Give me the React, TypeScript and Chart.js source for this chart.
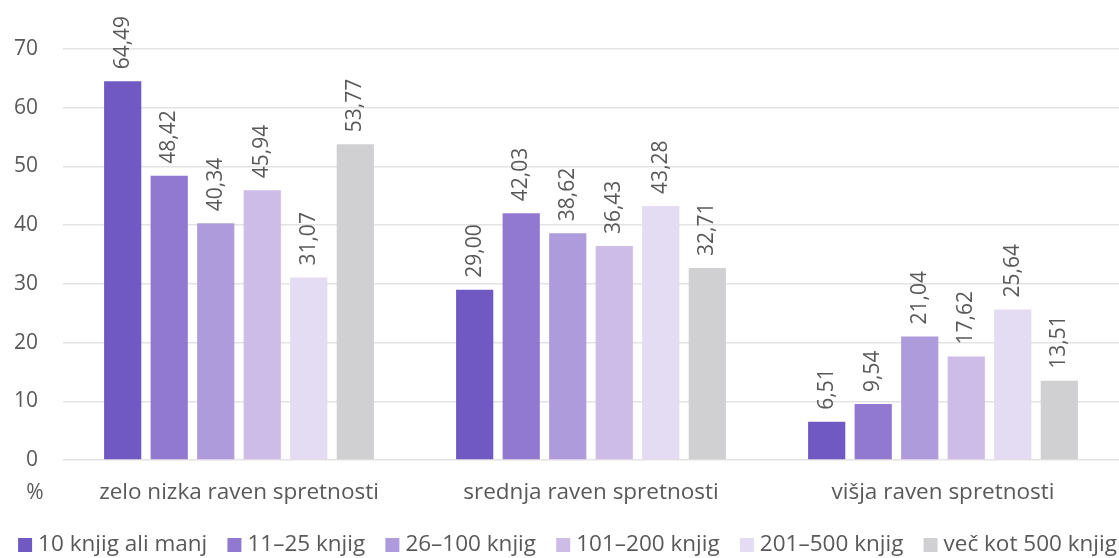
import { useEffect, useRef } from "react";
import { Chart, registerables } from "chart.js";

Chart.register(...registerables);

const categories = ["zelo nizka raven spretnosti", "srednja raven spretnosti", "višja raven spretnosti"];
const seriesNames = ["10 knjig ali manj", "11–25 knjig", "26–100 knjig", "101–200 knjig", "201–500 knjig", "več kot 500 knjig"];
const s1 = [64.49, 29.0, 6.51];
const s2 = [48.42, 42.03, 9.54];
const s3 = [40.34, 38.62, 21.04];
const s4 = [45.94, 36.43, 17.62];
const s5 = [31.07, 43.28, 25.64];
const s6 = [53.77, 32.71, 13.51];
const yTicks = [0, 10, 20, 30, 40, 50, 60, 70];
const colors = ["#7159C4", "#9178D1", "#AE9BDC", "#CDBBE8", "#E4DCF2", "#D0D0D2"];

const FONT = "'Open Sans', 'Noto Sans', sans-serif";
const FS = 21;
const FS_TEXT = 22.5;
const TEXT = "#595959";

const labelPlugin = {
  id: "barLabels",
  afterDatasetsDraw(chart: any) {
    const ctx = chart.ctx;
    ctx.save();
    ctx.font = `${FS}px ${FONT}`;
    ctx.fillStyle = TEXT;
    ctx.textAlign = "left";
    ctx.textBaseline = "middle";
    chart.data.datasets.forEach((ds: any, i: number) => {
      const meta = chart.getDatasetMeta(i);
      meta.data.forEach((bar: any, j: number) => {
        const v = ds.data[j];
        const txt = v.toFixed(2).replace(".", ",");
        ctx.save();
        ctx.translate(bar.x, bar.y - 12);
        ctx.rotate(-Math.PI / 2);
        ctx.fillText(txt, 0, 0);
        ctx.restore();
      });
    });
    // "%" under the axis
    const y0 = chart.scales.y.getPixelForValue(0);
    ctx.textAlign = "center";
    ctx.fillText("%", 35, y0 + 33);

    // legend
    ctx.font = `${FS_TEXT}px ${FONT}`;
    const boxSize = 14;
    const boxGap = 6;
    const itemGap = 20.2;
    const widths = seriesNames.map((n) => ctx.measureText(n).width);
    const total = widths.reduce((a, w) => a + boxSize + boxGap + w, 0) + itemGap * (seriesNames.length - 1);
    let x = (chart.width - total) / 2 + 8;
    const ly = 545;
    ctx.textAlign = "left";
    seriesNames.forEach((n, i) => {
      ctx.fillStyle = colors[i];
      ctx.fillRect(x, ly - boxSize / 2, boxSize, boxSize);
      ctx.fillStyle = TEXT;
      ctx.fillText(n, x + boxSize + boxGap, ly);
      x += boxSize + boxGap + widths[i] + itemGap;
    });
    ctx.restore();
  },
};

export default function App() {
  const ref = useRef<HTMLCanvasElement | null>(null);
  useEffect(() => {
    document.body.style.margin = "0";
    const data = [s1, s2, s3, s4, s5, s6];
    const chart = new Chart(ref.current!, {
      type: "bar",
      data: {
        labels: categories,
        datasets: seriesNames.map((n, i) => ({
          label: n,
          data: data[i],
          backgroundColor: colors[i],
          borderWidth: 0,
          barPercentage: 0.8,
          categoryPercentage: 0.793,
        })),
      },
      options: {
        animation: false,
        responsive: false,
        maintainAspectRatio: false,
        layout: { padding: { top: 49, right: 0, left: 0, bottom: 38 } },
        plugins: {
          legend: { display: false },
          tooltip: { enabled: false },
        },
        scales: {
          x: {
            grid: { display: false, drawTicks: false },
            border: { display: false },
            ticks: { font: { family: FONT, size: FS_TEXT }, color: TEXT, padding: 19 },
            afterFit: (s: any) => {
              s.height = 60;
            },
          },
          y: {
            min: 0,
            max: 70,
            afterBuildTicks: (s: any) => {
              s.ticks = yTicks.map((v) => ({ value: v }));
            },
            afterFit: (s: any) => {
              s.width = 63;
            },
            grid: { color: "#E3E3E3", lineWidth: 1.5, drawTicks: false },
            border: { display: false },
            ticks: { font: { family: FONT, size: FS }, color: TEXT, padding: 25 },
          },
        },
      },
      plugins: [labelPlugin],
    } as any);
    return () => chart.destroy();
  }, []);
  return (
    <div style={{ width: 1119, height: 558 }}>
      <canvas ref={ref} width={1119} height={558} style={{ display: "block" }} />
    </div>
  );
}
